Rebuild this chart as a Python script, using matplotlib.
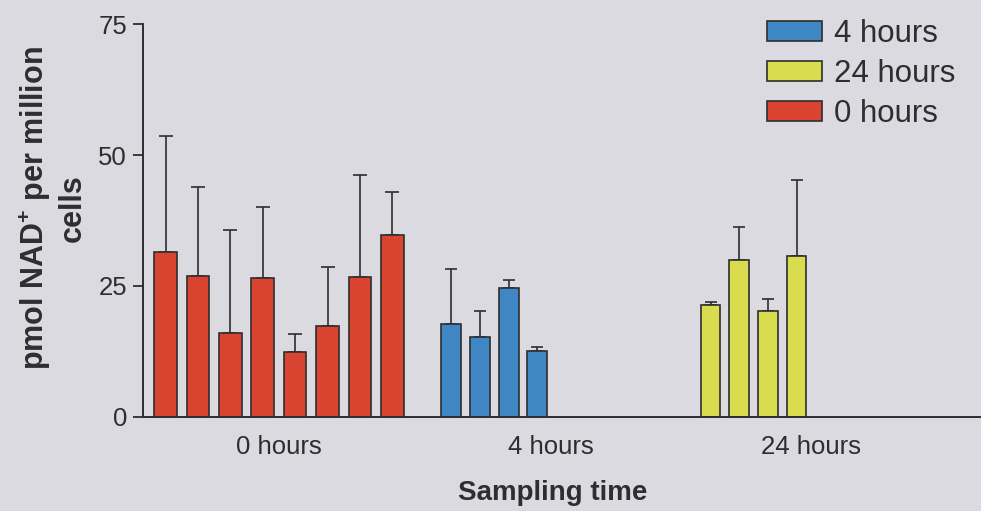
import matplotlib
matplotlib.use("Agg")
import matplotlib.pyplot as plt
from matplotlib.patches import Patch
import numpy as np

plt.rcParams['font.family'] = ['Liberation Sans', 'DejaVu Sans']
plt.rcParams['mathtext.fontset'] = 'custom'
plt.rcParams['mathtext.rm'] = 'Liberation Sans'
plt.rcParams['mathtext.bf'] = 'Liberation Sans:bold'

# NAD+ levels (pmol per million cells), mean and upper error bar top
red_vals = [31.4, 26.9, 16.1, 26.5, 12.4, 17.4, 26.7, 34.7]
red_err_top = [53.7, 44.0, 35.7, 40.1, 15.9, 28.7, 46.3, 42.9]
blue_vals = [17.7, 15.2, 24.7, 12.6]
blue_err_top = [28.2, 20.2, 26.2, 13.4]
yellow_vals = [21.3, 30.0, 20.3, 30.7]
yellow_err_top = [21.9, 36.3, 22.5, 45.2]

group_labels = ["0 hours", "4 hours", "24 hours"]
legend_labels = ["4 hours", "24 hours", "0 hours"]
y_ticks = [0, 25, 50, 75]

RED = "#d8442f"
BLUE = "#3f87c4"
YELLOW = "#d9dc4e"
BG = "#dcdae1"
INK = "#2e2e2e"

fig = plt.figure(figsize=(9.81, 5.11), dpi=100, facecolor=BG)
ax = fig.add_axes([143 / 981, 1 - 416.7 / 511, 1 - 143 / 981, (416.7 - 24.5) / 511])
ax.set_facecolor(BG)


def draw_group(vals, err_top, start, pitch, width, color, capsize):
    x = start + pitch * np.arange(len(vals))
    vals = np.asarray(vals)
    up = np.asarray(err_top) - vals
    ax.bar(x, vals, width=width, color=color, edgecolor=INK, linewidth=1.2, zorder=2)
    ax.errorbar(x, vals, yerr=[np.zeros_like(up), up], fmt="none", ecolor=INK,
                elinewidth=1.2, capsize=capsize, capthick=1.2, zorder=1)


draw_group(red_vals, red_err_top, 22.5, 32.4, 22.5, RED, 4.7)
draw_group(blue_vals, blue_err_top, 308.0, 28.8, 20.0, BLUE, 4.2)
draw_group(yellow_vals, yellow_err_top, 567.5, 28.7, 19.5, YELLOW, 4.2)

ax.set_xlim(0, 838)
ax.set_ylim(0, 75)

ax.set_yticks(y_ticks)
ax.set_yticklabels([str(t) for t in y_ticks])
ax.set_xticks([136, 408, 668])
ax.set_xticklabels(group_labels)
ax.tick_params(axis="y", length=7.5, width=1.3, pad=4, labelsize=18.5,
               colors=INK, direction="out")
ax.tick_params(axis="x", length=0, pad=13, labelsize=18.5, colors=INK)

for side in ("top", "right"):
    ax.spines[side].set_visible(False)
for side in ("left", "bottom"):
    ax.spines[side].set_linewidth(1.4)
    ax.spines[side].set_color(INK)

fig.text(53 / 981, 1 - 208 / 511, "pmol NAD$^{\\mathbf{+}}$ per million\ncells",
         rotation=90, ha="center", va="center", multialignment="center",
         fontsize=22, fontweight="bold", color=INK, linespacing=1.2)
fig.text(553 / 981, 1 - 493 / 511, "Sampling time", ha="center", va="center",
         fontsize=20, fontweight="bold", color=INK)

handles = [Patch(facecolor=c, edgecolor=INK, linewidth=1.2) for c in (BLUE, YELLOW, RED)]
fig.legend(handles, legend_labels, loc="upper left",
           bbox_to_anchor=(767 / 981, 1 - 19 / 511), frameon=False,
           fontsize=22.5, handlelength=1.76, handleheight=0.64,
           handletextpad=0.38, labelspacing=0.32, borderpad=0, borderaxespad=0,
           labelcolor=INK)

fig.savefig("out.png", dpi=100, facecolor=BG)
